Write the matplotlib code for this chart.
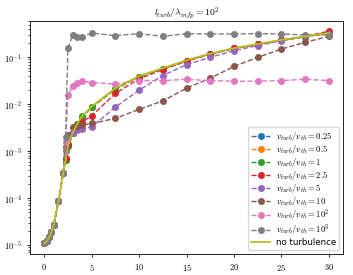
from matplotlib import pyplot as plt
from matplotlib.ticker import FuncFormatter
import numpy as np

plt.rcParams['mathtext.fontset'] = 'cm'

t = [0, 0.25, 0.5, 0.75, 1, 1.5, 2, 2.25, 2.5, 3, 3.5, 4, 5,
     7.5, 10, 12.5, 15, 17.5, 20, 22.5, 25, 27.5, 30]
early = [1.08e-5, 1.2e-5, 1.45e-5, 1.9e-5, 2.7e-5, 8.5e-5, 3.4e-4]

v025 = early + [6.5e-4, 1.3e-3, 2.4e-3, 3.8e-3, 5.4e-3, 8.6e-3, 0.021, 0.039, 0.057, 0.085, 0.118, 0.155, 0.19, 0.23, 0.275, 0.33]
v05 = early + [6.5e-4, 1.3e-3, 2.4e-3, 3.8e-3, 5.4e-3, 8.6e-3, 0.021, 0.039, 0.057, 0.085, 0.118, 0.155, 0.19, 0.23, 0.275, 0.33]
v1 = early + [6.5e-4, 1.3e-3, 2.4e-3, 3.8e-3, 5.5e-3, 8.7e-3, 0.021, 0.039, 0.057, 0.085, 0.118, 0.155, 0.19, 0.23, 0.275, 0.33]
v25 = early + [7e-4, 1.4e-3, 2.4e-3, 3.3e-3, 4.2e-3, 5.7e-3, 0.017, 0.035, 0.055, 0.083, 0.117, 0.155, 0.19, 0.235, 0.28, 0.36]
v5 = early + [1.0e-3, 1.9e-3, 2.4e-3, 2.8e-3, 3.0e-3, 3.3e-3, 0.0087, 0.020, 0.041, 0.070, 0.10, 0.139, 0.178, 0.226, 0.28, 0.316]
v10 = early + [1.2e-3, 2.2e-3, 3.2e-3, 3.4e-3, 3.6e-3, 3.9e-3, 0.0050, 0.0078, 0.0118, 0.022, 0.036, 0.064, 0.10, 0.15, 0.21, 0.28]
v100 = early + [1.6e-3, 0.016, 0.024, 0.029, 0.031, 0.029, 0.027, 0.032, 0.032, 0.034, 0.032, 0.031, 0.031, 0.032, 0.034, 0.032]
v1000 = early + [2.0e-3, 0.16, 0.30, 0.27, 0.275, 0.33, 0.29, 0.32, 0.28, 0.32, 0.315, 0.315, 0.32, 0.315, 0.30, 0.30]
noturb = early + [6.5e-4, 1.3e-3, 2.5e-3, 3.9e-3, 5.6e-3, 9.0e-3, 0.022, 0.040, 0.059, 0.087, 0.12, 0.157, 0.193, 0.235, 0.28, 0.33]

series = [v025, v05, v1, v25, v5, v10, v100, v1000]
labels = ['0.25', '0.5', '1', '2.5', '5', '10', '10^2', '10^3']

fig = plt.figure(figsize=(3.53, 2.75), dpi=100)
ax = fig.add_axes([0.085, 0.076, 0.887, 0.849])

for i in range(len(series)):
    ax.plot(t, series[i], 'o--', color='C%d' % i, markersize=4.0, linewidth=1.0,
            label=r'$v_{turb}/v_{th} = %s$' % labels[i])
ax.plot(t, noturb, '-', color='tab:olive', linewidth=1.3, label='no turbulence')

ax.set_yscale('log')
ax.set_xticks([0, 5, 10, 15, 20, 25, 30])
ax.xaxis.set_major_formatter(FuncFormatter(lambda v, p: '$%g$' % v))
ax.yaxis.set_major_formatter(FuncFormatter(lambda v, p: '$10^{%d}$' % int(round(np.log10(v)))))
ax.tick_params(labelsize=6, length=2.5, width=0.6)
ax.tick_params(which='minor', length=1.5, width=0.5)
for s in ax.spines.values():
    s.set_linewidth(0.6)
ax.set_title(r'$l_{turb}/\lambda_{mfp} = 10^2$', fontsize=7, pad=4)
ax.legend(loc='lower right', fontsize=6.2, handlelength=2.2, handletextpad=0.6,
          labelspacing=0.0, borderpad=0.35, framealpha=0.8)

fig.savefig('out.png', dpi=100)
